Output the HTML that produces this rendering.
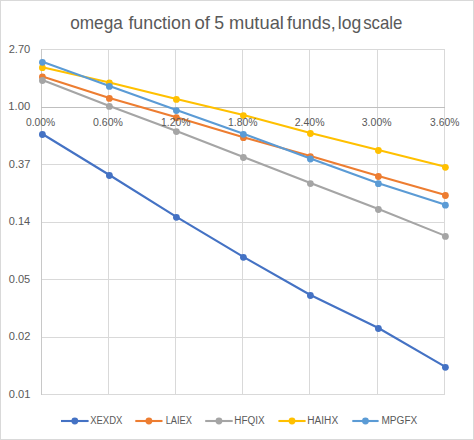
<!DOCTYPE html><html><head><meta charset="utf-8"><style>html,body{margin:0;padding:0;background:#fff;overflow:hidden}svg{display:block}text{font-family:"Liberation Sans",sans-serif;fill:#595959}</style></head><body>
<svg width="474" height="440" viewBox="0 0 474 440">
<rect x="0.5" y="0.5" width="473" height="439" fill="#fff" stroke="#d9d9d9" stroke-width="1"/>
<line x1="41" y1="49.5" x2="445" y2="49.5" stroke="#d9d9d9" stroke-width="1"/>
<line x1="41" y1="107.5" x2="445" y2="107.5" stroke="#d9d9d9" stroke-width="1"/>
<line x1="41" y1="164.5" x2="445" y2="164.5" stroke="#d9d9d9" stroke-width="1"/>
<line x1="41" y1="222.5" x2="445" y2="222.5" stroke="#d9d9d9" stroke-width="1"/>
<line x1="41" y1="279.5" x2="445" y2="279.5" stroke="#d9d9d9" stroke-width="1"/>
<line x1="41" y1="337.5" x2="445" y2="337.5" stroke="#d9d9d9" stroke-width="1"/>
<line x1="41" y1="394.5" x2="445" y2="394.5" stroke="#d9d9d9" stroke-width="1"/>
<line x1="41.5" y1="49" x2="41.5" y2="395" stroke="#d9d9d9" stroke-width="1"/>
<line x1="108.5" y1="49" x2="108.5" y2="395" stroke="#d9d9d9" stroke-width="1"/>
<line x1="175.5" y1="49" x2="175.5" y2="395" stroke="#d9d9d9" stroke-width="1"/>
<line x1="242.5" y1="49" x2="242.5" y2="395" stroke="#d9d9d9" stroke-width="1"/>
<line x1="309.5" y1="49" x2="309.5" y2="395" stroke="#d9d9d9" stroke-width="1"/>
<line x1="377.5" y1="49" x2="377.5" y2="395" stroke="#d9d9d9" stroke-width="1"/>
<line x1="444.5" y1="49" x2="444.5" y2="395" stroke="#d9d9d9" stroke-width="1"/>
<line x1="41.5" y1="49" x2="41.5" y2="395" stroke="#c8c8c8" stroke-width="1"/>
<line x1="41" y1="107.5" x2="445" y2="107.5" stroke="#bfbfbf" stroke-width="1"/>
<polyline points="42.40,134.00 109.40,175.00 176.40,216.80 243.40,256.80 310.40,295.00 378.40,328.00 445.40,366.80" fill="none" stroke="#4472C4" stroke-width="2.1" stroke-linejoin="round" stroke-linecap="round"/>
<circle cx="42.40" cy="134.50" r="3.4" fill="#4472C4"/>
<circle cx="109.40" cy="175.50" r="3.4" fill="#4472C4"/>
<circle cx="176.40" cy="217.30" r="3.4" fill="#4472C4"/>
<circle cx="243.40" cy="257.30" r="3.4" fill="#4472C4"/>
<circle cx="310.40" cy="295.50" r="3.4" fill="#4472C4"/>
<circle cx="378.40" cy="328.50" r="3.4" fill="#4472C4"/>
<circle cx="445.40" cy="367.30" r="3.4" fill="#4472C4"/>
<polyline points="42.40,76.50 109.40,97.90 176.40,117.25 243.40,137.20 310.40,156.10 378.40,176.00 445.40,195.00" fill="none" stroke="#ED7D31" stroke-width="2.1" stroke-linejoin="round" stroke-linecap="round"/>
<circle cx="42.40" cy="77.00" r="3.4" fill="#ED7D31"/>
<circle cx="109.40" cy="98.40" r="3.4" fill="#ED7D31"/>
<circle cx="176.40" cy="117.75" r="3.4" fill="#ED7D31"/>
<circle cx="243.40" cy="137.70" r="3.4" fill="#ED7D31"/>
<circle cx="310.40" cy="156.60" r="3.4" fill="#ED7D31"/>
<circle cx="378.40" cy="176.50" r="3.4" fill="#ED7D31"/>
<circle cx="445.40" cy="195.50" r="3.4" fill="#ED7D31"/>
<polyline points="42.40,80.00 109.40,105.90 176.40,131.10 243.40,157.00 310.40,183.10 378.40,209.00 445.40,235.90" fill="none" stroke="#A5A5A5" stroke-width="2.1" stroke-linejoin="round" stroke-linecap="round"/>
<circle cx="42.40" cy="80.50" r="3.4" fill="#A5A5A5"/>
<circle cx="109.40" cy="106.40" r="3.4" fill="#A5A5A5"/>
<circle cx="176.40" cy="131.60" r="3.4" fill="#A5A5A5"/>
<circle cx="243.40" cy="157.50" r="3.4" fill="#A5A5A5"/>
<circle cx="310.40" cy="183.60" r="3.4" fill="#A5A5A5"/>
<circle cx="378.40" cy="209.50" r="3.4" fill="#A5A5A5"/>
<circle cx="445.40" cy="236.40" r="3.4" fill="#A5A5A5"/>
<polyline points="42.40,67.20 109.40,82.50 176.40,98.90 243.40,115.10 310.40,133.00 378.40,150.00 445.40,166.80" fill="none" stroke="#FFC000" stroke-width="2.1" stroke-linejoin="round" stroke-linecap="round"/>
<circle cx="42.40" cy="67.70" r="3.4" fill="#FFC000"/>
<circle cx="109.40" cy="83.00" r="3.4" fill="#FFC000"/>
<circle cx="176.40" cy="99.40" r="3.4" fill="#FFC000"/>
<circle cx="243.40" cy="115.60" r="3.4" fill="#FFC000"/>
<circle cx="310.40" cy="133.50" r="3.4" fill="#FFC000"/>
<circle cx="378.40" cy="150.50" r="3.4" fill="#FFC000"/>
<circle cx="445.40" cy="167.30" r="3.4" fill="#FFC000"/>
<polyline points="42.40,61.80 109.40,85.90 176.40,110.10 243.40,133.80 310.40,158.50 378.40,183.20 445.40,204.70" fill="none" stroke="#5B9BD5" stroke-width="2.1" stroke-linejoin="round" stroke-linecap="round"/>
<circle cx="42.40" cy="62.30" r="3.4" fill="#5B9BD5"/>
<circle cx="109.40" cy="86.40" r="3.4" fill="#5B9BD5"/>
<circle cx="176.40" cy="110.60" r="3.4" fill="#5B9BD5"/>
<circle cx="243.40" cy="134.30" r="3.4" fill="#5B9BD5"/>
<circle cx="310.40" cy="159.00" r="3.4" fill="#5B9BD5"/>
<circle cx="378.40" cy="183.70" r="3.4" fill="#5B9BD5"/>
<circle cx="445.40" cy="205.20" r="3.4" fill="#5B9BD5"/>
<line x1="61" y1="421" x2="88.6" y2="421" stroke="#4472C4" stroke-width="2.1"/>
<circle cx="74.80" cy="421" r="3.4" fill="#4472C4"/>
<line x1="135.3" y1="421" x2="162.5" y2="421" stroke="#ED7D31" stroke-width="2.1"/>
<circle cx="148.90" cy="421" r="3.4" fill="#ED7D31"/>
<line x1="205.2" y1="421" x2="232.7" y2="421" stroke="#A5A5A5" stroke-width="2.1"/>
<circle cx="218.95" cy="421" r="3.4" fill="#A5A5A5"/>
<line x1="278.4" y1="421" x2="305.6" y2="421" stroke="#FFC000" stroke-width="2.1"/>
<circle cx="292.00" cy="421" r="3.4" fill="#FFC000"/>
<line x1="352.3" y1="421" x2="378.6" y2="421" stroke="#5B9BD5" stroke-width="2.1"/>
<circle cx="365.45" cy="421" r="3.4" fill="#5B9BD5"/>
<text transform="translate(70.18,29.10) scale(0.9830,1)" font-size="17.5">omega</text>
<text transform="translate(128.41,29.10) scale(1.0200,1)" font-size="17.5">function</text>
<text transform="translate(194.49,29.10) scale(1.0589,1)" font-size="17.5">of</text>
<text transform="translate(214.29,29.10) scale(1.0107,1)" font-size="17.5">5</text>
<text transform="translate(228.92,29.10) scale(1.0470,1)" font-size="17.5">mutual</text>
<text transform="translate(286.97,29.10) scale(1.0212,1)" font-size="17.5">funds,</text>
<text transform="translate(337.78,29.10) scale(1.0033,1)" font-size="17.5">log</text>
<text transform="translate(363.15,29.10) scale(0.9631,1)" font-size="17.5">scale</text>
<text transform="translate(8.64,52.80) scale(1.0096,1)" font-size="11">2.70</text>
<text transform="translate(8.36,110.30) scale(1.0233,1)" font-size="11">1.00</text>
<text transform="translate(8.76,167.80) scale(1.0096,1)" font-size="11">0.37</text>
<text transform="translate(8.76,225.30) scale(0.9988,1)" font-size="11">0.14</text>
<text transform="translate(8.76,282.80) scale(1.0041,1)" font-size="11">0.05</text>
<text transform="translate(8.76,340.30) scale(1.0096,1)" font-size="11">0.02</text>
<text transform="translate(8.76,397.80) scale(1.0096,1)" font-size="11">0.01</text>
<text transform="translate(25.89,125.80) scale(0.9387,1)" font-size="11">0.00%</text>
<text transform="translate(92.98,125.80) scale(0.9585,1)" font-size="11">0.60%</text>
<text transform="translate(161.08,125.80) scale(0.9391,1)" font-size="11">1.20%</text>
<text transform="translate(228.02,125.80) scale(0.9475,1)" font-size="11">1.80%</text>
<text transform="translate(294.67,125.80) scale(0.9587,1)" font-size="11">2.40%</text>
<text transform="translate(361.78,125.80) scale(0.9552,1)" font-size="11">3.00%</text>
<text transform="translate(430.09,125.80) scale(0.9387,1)" font-size="11">3.60%</text>
<text transform="translate(90.16,424.10) scale(0.8670,1)" font-size="11">XEXDX</text>
<text transform="translate(165.66,424.10) scale(0.8425,1)" font-size="11">LAIEX</text>
<text transform="translate(234.30,424.10) scale(0.9045,1)" font-size="11">HFQIX</text>
<text transform="translate(307.29,424.10) scale(0.9199,1)" font-size="11">HAIHX</text>
<text transform="translate(381.49,424.10) scale(0.9157,1)" font-size="11">MPGFX</text>
</svg></body></html>
